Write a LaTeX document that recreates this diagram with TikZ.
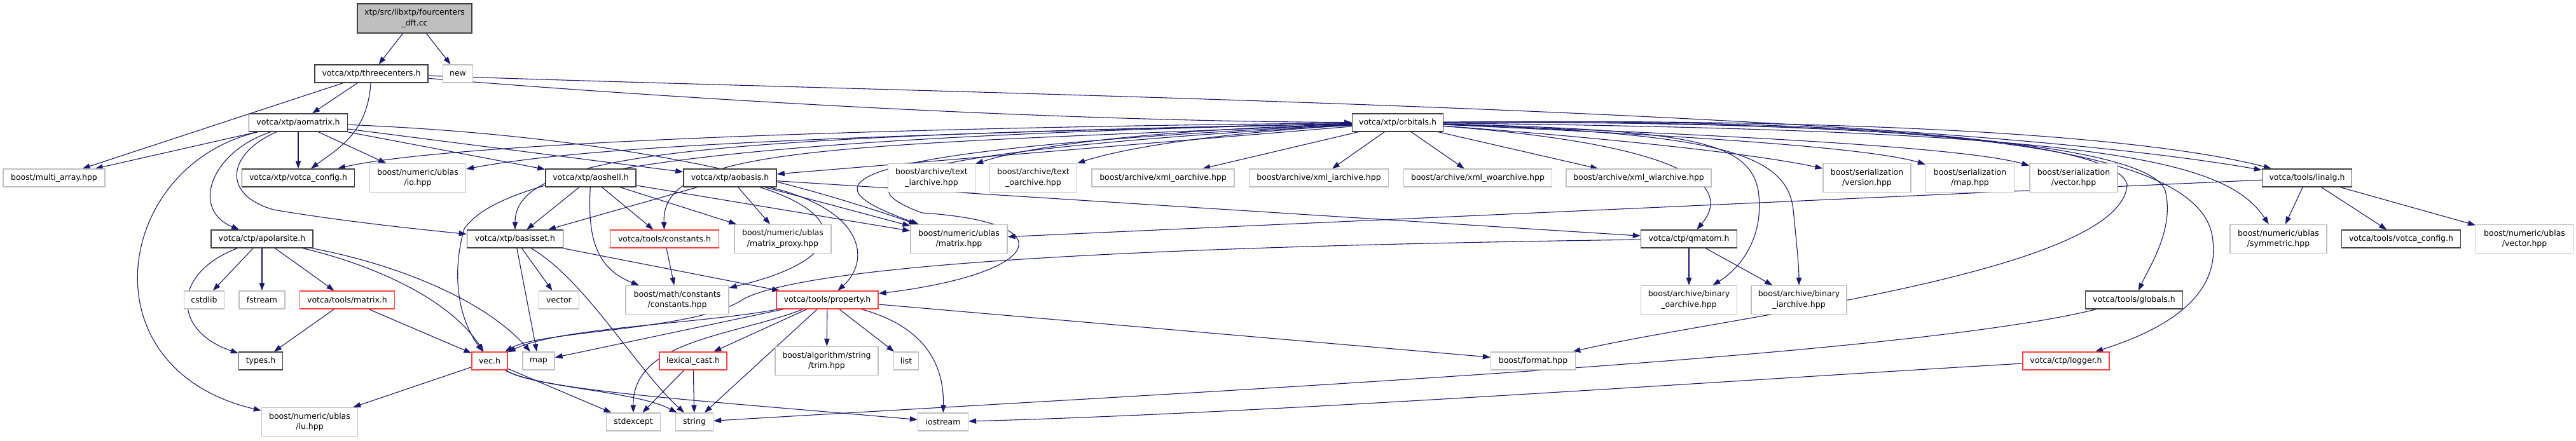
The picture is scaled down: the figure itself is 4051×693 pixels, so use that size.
\documentclass[tikz,border=0pt]{standalone}
\usepackage{fontspec}
\setmainfont{DejaVu Sans}
\usetikzlibrary{arrows.meta,backgrounds}
\definecolor{edgec}{HTML}{191970}
\definecolor{dkb}{HTML}{404040}
\definecolor{gyb}{HTML}{BFBFBF}
\definecolor{rdb}{HTML}{FF4040}
\begin{document}
\begin{tikzpicture}[x=0.5pt,y=-0.5pt]
\tikzset{
 bx/.style={inner sep=0pt, font=\fontsize{6.25}{8.3}\selectfont, align=center, text=black},
 dk/.style={bx, draw=dkb, line width=0.75pt, fill=white},
 gy/.style={bx, draw=gyb, line width=0.65pt, fill=white},
 rd/.style={bx, draw=rdb, line width=0.65pt, fill=white},
 rt/.style={bx, draw=dkb, line width=0.75pt, fill=gyb},
 bw/.style={minimum width=#1*0.5pt},
 bh/.style={minimum height=#1*0.5pt},
 edg/.style={draw=edgec, line width=0.55pt, -{Triangle[length=6pt,width=4.2pt]}}
}
\useasboundingbox (0,0) rectangle (4051,693);
% nodes
\node[rt,bw=180,bh=46] (root) at (652,29) {xtp/src/libxtp/fourcenters\\\_dft.cc};
\node[gy,bw=47,bh=28] (new) at (720,116) {new};
\node[dk,bw=178,bh=28] (three) at (584,116) {votca/xtp/threecenters.h};
\node[dk,bw=155,bh=28] (aomat) at (469,193) {votca/xtp/aomatrix.h};
\node[gy,bw=160,bh=28] (multi) at (85,280) {boost/multi\_array.hpp};
\node[dk,bw=177,bh=28] (xconf) at (469,280) {votca/xtp/votca\_config.h};
\node[gy,bw=151,bh=45] (io) at (657,280) {boost/numeric/ublas\\/io.hpp};
\node[dk,bw=142,bh=28] (aoshell) at (929,280) {votca/xtp/aoshell.h};
\node[dk,bw=146,bh=28] (aobasis) at (1148,280) {votca/xtp/aobasis.h};
\node[gy,bw=137,bh=45] (txti) at (1465,280) {boost/archive/text\\\_iarchive.hpp};
\node[gy,bw=137,bh=45] (txto) at (1625,280) {boost/archive/text\\\_oarchive.hpp};
\node[gy,bw=224,bh=28] (xmlo) at (1829,280) {boost/archive/xml\_oarchive.hpp};
\node[gy,bw=219,bh=28] (xmli) at (2074,280) {boost/archive/xml\_iarchive.hpp};
\node[gy,bw=233,bh=28] (xmlwo) at (2324,280) {boost/archive/xml\_woarchive.hpp};
\node[gy,bw=228,bh=28] (xmlwi) at (2577,280) {boost/archive/xml\_wiarchive.hpp};
\node[dk,bw=143,bh=28] (orb) at (2198,193) {votca/xtp/orbitals.h};
\node[gy,bw=138,bh=45] (sver) at (2936,280) {boost/serialization\\/version.hpp};
\node[gy,bw=139,bh=45] (smap) at (3098,280) {boost/serialization\\/map.hpp};
\node[gy,bw=138,bh=45] (svec) at (3261,280) {boost/serialization\\/vector.hpp};
\node[dk,bw=141,bh=28] (linalg) at (3628,280) {votca/tools/linalg.h};
\node[dk,bw=160,bh=28] (apolar) at (412,376) {votca/ctp/apolarsite.h};
\node[dk,bw=151,bh=28] (basis) at (810,376) {votca/xtp/basisset.h};
\node[rd,bw=171,bh=28] (const) at (1045,376) {votca/tools/constants.h};
\node[gy,bw=152,bh=45] (proxy) at (1231,376) {boost/numeric/ublas\\/matrix\_proxy.hpp};
\node[gy,bw=152,bh=45] (umat) at (1508,376) {boost/numeric/ublas\\/matrix.hpp};
\node[dk,bw=151,bh=28] (qmatom) at (2656,376) {votca/ctp/qmatom.h};
\node[gy,bw=152,bh=45] (symm) at (3583,376) {boost/numeric/ublas\\/symmetric.hpp};
\node[dk,bw=187,bh=28] (tconf) at (3776,376) {votca/tools/votca\_config.h};
\node[gy,bw=153,bh=45] (uvec) at (3970,376) {boost/numeric/ublas\\/vector.hpp};
\node[gy,bw=63,bh=28] (cstdlib) at (321,472) {cstdlib};
\node[gy,bw=72,bh=28] (fstream) at (412,472) {fstream};
\node[rd,bw=149,bh=28] (tmat) at (546,472) {votca/tools/matrix.h};
\node[gy,bw=63,bh=28] (vector) at (879,472) {vector};
\node[gy,bw=162,bh=45] (mconst) at (1065,472) {boost/math/constants\\/constants.hpp};
\node[rd,bw=160,bh=28] (prop) at (1301,472) {votca/tools/property.h};
\node[gy,bw=151,bh=45] (binout) at (2656,472) {boost/archive/binary\\\_oarchive.hpp};
\node[gy,bw=150,bh=45] (binin) at (2829,472) {boost/archive/binary\\\_iarchive.hpp};
\node[dk,bw=153,bh=28] (glob) at (3356,472) {votca/tools/globals.h};
\node[dk,bw=69,bh=28] (types) at (410,568) {types.h};
\node[rd,bw=56,bh=28] (vec) at (770,568) {vec.h};
\node[gy,bw=50,bh=28] (map) at (847,568) {map};
\node[rd,bw=106,bh=28] (lex) at (1090,568) {lexical\_cast.h};
\node[gy,bw=162,bh=45] (trim) at (1300,568) {boost/algorithm/string\\/trim.hpp};
\node[gy,bw=39,bh=28] (list) at (1425,568) {list};
\node[gy,bw=133,bh=28] (format) at (2411,568) {boost/format.hpp};
\node[rd,bw=136,bh=28] (logger) at (3249,568) {votca/ctp/logger.h};
\node[gy,bw=151,bh=45] (lu) at (487,664) {boost/numeric/ublas\\/lu.hpp};
\node[gy,bw=85,bh=28] (stdexc) at (996,664) {stdexcept};
\node[gy,bw=59,bh=28] (string) at (1092,664) {string};
\node[gy,bw=79,bh=28] (iostr) at (1483,664) {iostream};
\begin{pgfonlayer}{background}
\fill[white] (0,0) rectangle (4051,693);
% root and threecenters
\draw[edg] (root) -- (three);
\draw[edg] (root) -- (new);
\draw[edg] (three) -- (multi);
\draw[edg] (three) -- (aomat);
\draw[edg] (three) .. controls (578,210) and (530,235) .. (xconf);
\draw[edg] (three) .. controls (1000,150) and (1600,190) .. (orb);
\draw[edg] (three) .. controls (1500,148) and (3000,170) .. (linalg);
% aomatrix
\draw[edg] (aomat) -- (multi);
\draw[edg] (aomat) -- (xconf);
\draw[edg] (aomat) -- (io);
\draw[edg] (aomat) -- (aoshell);
\draw[edg] (aomat) -- (aobasis);
\draw[edg] (aomat) .. controls (1000,215) and (1260,290) .. (umat);
\draw[edg] (aomat) .. controls (330,240) and (300,330) .. (apolar);
\draw[edg] (aomat) .. controls (180,260) and (130,580) .. (lu);
\draw[edg] (aomat) .. controls (360,240) and (345,305) .. (430,330) .. controls (500,342) and (600,355) .. (basis);
% apolarsite
\draw[edg] (apolar) -- (cstdlib);
\draw[edg] (apolar) -- (fstream);
\draw[edg] (apolar) -- (tmat);
\draw[edg] (apolar) .. controls (270,430) and (270,520) .. (types);
\draw[edg] (apolar) .. controls (560,410) and (700,460) .. (vec);
\draw[edg] (apolar) .. controls (620,415) and (760,470) .. (map);
% tools/matrix
\draw[edg] (tmat) -- (types);
\draw[edg] (tmat) -- (vec);
% vec
\draw[edg] (vec) -- (lu);
\draw[edg] (vec) -- (stdexc);
\draw[edg] (vec) .. controls (840,610) and (1000,615) .. (string);
\draw[edg] (vec) .. controls (850,615) and (1100,630) .. (iostr);
% basisset
\draw[edg] (basis) -- (map);
\draw[edg] (basis) -- (vector);
\draw[edg] (basis) .. controls (920,440) and (1000,580) .. (string);
\draw[edg] (basis) -- (prop);
% aoshell
\draw[edg] (aoshell) -- (basis);
\draw[edg] (aoshell) -- (const);
\draw[edg] (aoshell) .. controls (925,360) and (930,420) .. (mconst);
\draw[edg] (aoshell) -- (proxy);
\draw[edg] (aoshell) -- (umat);
% aobasis
\draw[edg] (aobasis) -- (basis);
\draw[edg] (aobasis) -- (proxy);
\draw[edg] (aobasis) .. controls (1340,340) and (1330,410) .. (mconst);
\draw[edg] (aobasis) .. controls (1360,330) and (1370,410) .. (prop);
\draw[edg] (aobasis) -- (umat);
\draw[edg] (aobasis) -- (qmatom);
% constants
\draw[edg] (const) -- (mconst);
% property
\draw[edg] (prop) -- (lex);
\draw[edg] (prop) -- (string);
\draw[edg] (prop) -- (trim);
\draw[edg] (prop) -- (list);
\draw[edg] (prop) .. controls (1440,510) and (1485,560) .. (iostr);
\draw[edg] (prop) .. controls (1150,530) and (995,535) .. (stdexc);
\draw[edg] (prop) .. controls (1100,510) and (880,515) .. (vec);
\draw[edg] (prop) -- (map);
\draw[edg] (prop) -- (format);
% lexical_cast
\draw[edg] (lex) -- (stdexc);
\draw[edg] (lex) -- (string);
% orbitals
\draw[edg] (orb) -- (aobasis);
\draw[edg] (orb) .. controls (1200,215) and (900,235) .. (io);
\draw[edg] (orb) .. controls (1400,200) and (700,225) .. (xconf);
\draw[edg] (orb) .. controls (1100,215) and (810,240) .. (basis);
\draw[edg] (orb) .. controls (1200,215) and (800,260) .. (730,360) .. controls (710,430) and (720,500) .. (vec);
\draw[edg] (orb) .. controls (1300,230) and (1040,230) .. (const);
\draw[edg] (orb) .. controls (1200,240) and (1300,300) .. (umat);
\draw[edg] (orb) .. controls (1450,235) and (1300,280) .. (1450,335) .. controls (1680,350) and (1640,430) .. (prop);
\draw[edg] (orb) .. controls (2680,230) and (2720,300) .. (qmatom);
\draw[edg] (orb) .. controls (2650,205) and (2750,220) .. (2765,300) .. controls (2775,370) and (2740,420) .. (binout);
\draw[edg] (orb) .. controls (2700,210) and (2810,240) .. (2820,330) .. controls (2825,380) and (2829,420) .. (binin);
\draw[edg] (orb) -- (xmlo);
\draw[edg] (orb) -- (xmli);
\draw[edg] (orb) -- (xmlwo);
\draw[edg] (orb) -- (xmlwi);
\draw[edg] (orb) .. controls (1800,205) and (1620,230) .. (txti);
\draw[edg] (orb) .. controls (1900,210) and (1760,235) .. (txto);
\draw[edg] (orb) .. controls (2500,215) and (2750,240) .. (sver);
\draw[edg] (orb) .. controls (2700,215) and (2950,235) .. (smap);
\draw[edg] (orb) .. controls (2800,215) and (3100,235) .. (svec);
\draw[edg] (orb) .. controls (3000,185) and (3400,220) .. (linalg);
\draw[edg] (orb) .. controls (3300,205) and (3500,250) .. (symm);
\draw[edg] (orb) .. controls (3000,190) and (3380,230) .. (3405,300) .. controls (3420,360) and (3380,420) .. (glob);
\draw[edg] (orb) .. controls (3000,190) and (3470,220) .. (3480,380) .. controls (3490,470) and (3400,520) .. (logger);
\draw[edg] (orb) .. controls (3000,185) and (3330,230) .. (3345,290) .. controls (3340,430) and (2700,500) .. (format);
% qmatom
\draw[edg] (qmatom) .. controls (2000,385) and (1300,405) .. (1170,470) .. controls (1100,520) and (850,520) .. (vec);
\draw[edg] (qmatom) -- (binout);
\draw[edg] (qmatom) -- (binin);
% linalg
\draw[edg] (linalg) -- (umat);
\draw[edg] (linalg) -- (symm);
\draw[edg] (linalg) -- (tconf);
\draw[edg] (linalg) -- (uvec);
% globals, logger
\draw[edg] (glob) .. controls (3000,560) and (2000,610) .. (string);
\draw[edg] (logger) .. controls (2700,600) and (2000,650) .. (iostr);
\end{pgfonlayer}
\end{tikzpicture}
\end{document}
